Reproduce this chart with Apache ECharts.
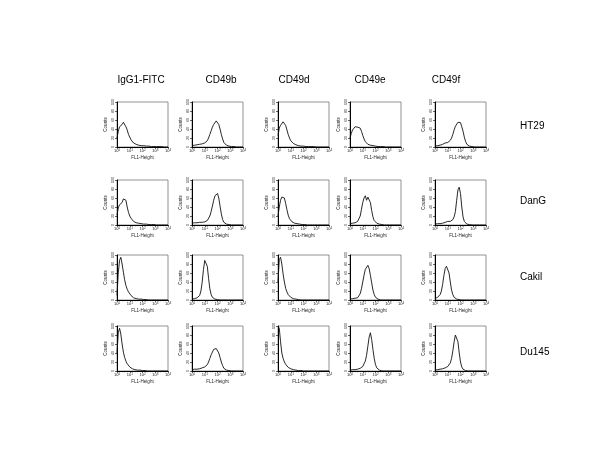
<!DOCTYPE html>
<html><head><meta charset="utf-8">
<script src="https://cdn.jsdelivr.net/npm/echarts@6/dist/echarts.min.js"></script>
<style>html,body{margin:0;padding:0;background:#fff}#c{width:600px;height:450px}</style>
</head><body><div id="c"></div>
<script>
const columns = ['IgG1-FITC','CD49b','CD49d','CD49e','CD49f'];
const rows = ['HT29','DanG','Cakil','Du145'];
const xTicks = [0,1,2,3,4];
const yTicks = [0,20,40,60,80,100];
const decades = [0,0.1,0.2,0.3,0.4,0.5,0.6,0.7,0.8,0.9,1.0,1.1,1.2,1.3,1.4,1.5,1.6,1.7,1.8,1.9,2.0,2.1,2.2,2.3,2.4,2.5,2.6,2.7,2.8,2.9,3.0,3.1,3.2,3.3,3.4,3.5,3.6,3.7,3.8,3.9,4.0];

const HT29_IgG   = [20,35,45,48,50,55,52,45,38,28, 22,16,12,9,7,6,5,4,4,3, 3,3,2,2,2,2,2,1,1,1, 1,1,1,1,1,1,0,0,0,0, 0];
const HT29_CD49b = [3,4,4,5,5,5,6,6,7,8, 9,10,14,20,28,36,44,50,52,58, 55,50,40,28,18,10,6,4,3,2, 2,1,1,1,1,0,0,0,0,0, 0];
const HT29_CD49d = [25,42,48,52,56,54,48,38,28,20, 14,10,8,6,5,4,3,3,2,2, 2,2,1,1,1,1,1,1,1,0, 0,0,0,0,0,0,0,0,0,0, 0];
const HT29_CD49e = [20,30,38,42,45,46,44,46,42,35, 26,18,12,8,6,5,4,3,3,2, 2,2,1,1,1,1,1,1,0,0, 0,0,0,0,0,0,0,0,0,0, 0];
const HT29_CD49f = [2,2,3,3,4,5,6,8,9,10, 10,12,15,20,28,38,46,50,55,52, 54,45,35,22,12,6,3,2,1,1, 1,0,0,0,0,0,0,0,0,0, 0];

const DanG_IgG   = [22,38,45,46,50,58,62,55,40,28, 20,15,11,8,6,5,4,4,3,3, 3,2,2,2,2,1,1,1,1,1, 1,0,0,0,0,0,0,0,0,0, 0];
const DanG_CD49b = [4,5,5,5,5,5,6,6,6,6, 7,8,10,14,20,30,42,55,65,68, 70,60,42,25,12,6,3,2,1,1, 0,0,0,0,0,0,0,0,0,0, 0];
const DanG_CD49d = [20,40,55,62,66,60,48,34,22,14, 10,7,5,4,3,3,2,2,2,1, 1,1,1,0,0,0,0,0,0,0, 0,0,0,0,0,0,0,0,0,0, 0];
const DanG_CD49e = [3,4,4,5,5,6,8,12,20,35, 50,60,65,55,62,66,50,32,18,10, 6,4,3,2,1,1,0,0,0,0, 0,0,0,0,0,0,0,0,0,0, 0];
const DanG_CD49f = [2,2,3,3,3,3,4,5,6,7, 8,8,8,9,12,18,30,55,78,84, 70,40,18,8,4,2,1,1,0,0, 0,0,0,0,0,0,0,0,0,0, 0];

const Cakil_IgG   = [10,60,88,95,80,62,45,32,24,18, 14,10,7,5,4,3,3,2,2,2, 1,1,1,1,1,0,0,0,0,0, 0,0,0,0,0,0,0,0,0,0, 0];
const Cakil_CD49b = [2,3,3,4,5,6,10,20,40,68, 88,92,75,48,25,12,6,3,2,1, 1,0,0,0,0,0,0,0,0,0, 0,0,0,0,0,0,0,0,0,0, 0];
const Cakil_CD49d = [40,90,95,80,58,40,26,18,12,8, 6,4,3,2,2,1,1,1,0,0, 0,0,0,0,0,0,0,0,0,0, 0,0,0,0,0,0,0,0,0,0, 0];
const Cakil_CD49e = [2,2,3,3,4,4,5,8,14,25, 40,55,68,72,77,70,55,38,22,12, 6,3,2,1,0,0,0,0,0,0, 0,0,0,0,0,0,0,0,0,0, 0];
const Cakil_CD49f = [3,4,6,8,12,20,35,55,70,75, 73,60,40,22,12,6,3,2,1,1, 0,0,0,0,0,0,0,0,0,0, 0,0,0,0,0,0,0,0,0,0, 0];

const Du145_IgG   = [40,85,95,82,60,42,30,22,16,12, 9,7,5,4,3,3,2,2,2,1, 1,1,1,0,0,0,0,0,0,0, 0,0,0,0,0,0,0,0,0,0, 0];
const Du145_CD49b = [3,3,4,4,4,5,5,6,7,8, 9,10,14,20,28,36,42,48,45,50, 47,40,30,20,12,6,3,2,1,1, 0,0,0,0,0,0,0,0,0,0, 0];
const Du145_CD49d = [100,95,65,40,28,20,15,11,8,6, 5,4,3,3,2,2,1,1,1,1, 0,0,0,0,0,0,0,0,0,0, 0,0,0,0,0,0,0,0,0,0, 0];
const Du145_CD49e = [2,2,3,3,3,4,4,5,6,8, 10,14,22,35,55,75,85,70,48,28, 14,7,3,2,1,0,0,0,0,0, 0,0,0,0,0,0,0,0,0,0, 0];
const Du145_CD49f = [2,2,3,3,4,4,5,6,7,8, 10,12,18,28,45,65,80,83,65,40, 20,9,4,2,1,0,0,0,0,0, 0,0,0,0,0,0,0,0,0,0, 0];

const panels = [
  [HT29_IgG, HT29_CD49b, HT29_CD49d, HT29_CD49e, HT29_CD49f],
  [DanG_IgG, DanG_CD49b, DanG_CD49d, DanG_CD49e, DanG_CD49f],
  [Cakil_IgG, Cakil_CD49b, Cakil_CD49d, Cakil_CD49e, Cakil_CD49f],
  [Du145_IgG, Du145_CD49b, Du145_CD49d, Du145_CD49e, Du145_CD49f]
];

// layout (pixels)
const colLeft = [117, 192, 278, 350, 435];
const rowTop = [102, 180, 255, 326];
const boxW = 51, boxH = 45;
const headerX = [141, 221, 294, 370, 446];
const rowLabelY = [126, 201, 277, 352];

const FONT = 'Liberation Sans, Arial, sans-serif';
const grids = [], xAxes = [], yAxes = [], series = [], titles = [];
let k = 0;
for (let r = 0; r < rows.length; r++) {
  for (let c = 0; c < columns.length; c++) {
    grids.push({left: colLeft[c], top: rowTop[r], width: boxW, height: boxH,
      show: true, borderColor: '#666', borderWidth: 0.7, backgroundColor: 'transparent'});
    xAxes.push({type: 'value', gridIndex: k, min: 0, max: 4, interval: 1,
      name: 'FL1-Height', nameLocation: 'middle', nameGap: 8,
      nameTextStyle: {fontSize: 4.5, color: '#222', fontFamily: FONT},
      axisLine: {show: true, lineStyle: {color: '#000', width: 1}},
      axisTick: {show: true, length: 2, lineStyle: {color: '#000', width: 0.6}},
      minorTick: {show: true, splitNumber: 5, length: 1.2, lineStyle: {color: '#000', width: 0.5}},
      splitLine: {show: false},
      axisLabel: {fontSize: 4, color: '#222', margin: 2, fontFamily: FONT,
        formatter: v => xTicks.indexOf(v) >= 0 ? '{b|10}{s|' + v + '}' : '',
        rich: {b: {fontSize: 4, fontFamily: FONT}, s: {fontSize: 3, verticalAlign: 'top', fontFamily: FONT}}}
    });
    yAxes.push({type: 'value', gridIndex: k, min: 0, max: 100, interval: 20,
      name: 'Counts', nameLocation: 'middle', nameGap: 9, nameRotate: 90,
      nameTextStyle: {fontSize: 4.5, color: '#222', fontFamily: FONT},
      axisLine: {show: true, lineStyle: {color: '#000', width: 1}},
      axisTick: {show: true, length: 2, lineStyle: {color: '#000', width: 0.6}},
      splitLine: {show: false},
      axisLabel: {fontSize: 3.5, color: '#222', margin: 2, rotate: 90, fontFamily: FONT}
    });
    series.push({type: 'line', xAxisIndex: k, yAxisIndex: k, showSymbol: false, symbol: 'none',
      smooth: false, lineStyle: {color: '#111', width: 0.9}, animation: false,
      data: decades.map((d, i) => [d, panels[r][c][i]])});
    k++;
  }
}
columns.forEach((t, c) => titles.push({text: t, left: headerX[c], top: 75, padding: 0,
  textAlign: 'center', textStyle: {fontSize: 10, fontWeight: 'normal', color: '#000', fontFamily: FONT}}));
rows.forEach((t, r) => titles.push({text: t, left: 520, top: rowLabelY[r] - 5, padding: 0,
  textStyle: {fontSize: 10, fontWeight: 'normal', color: '#000', fontFamily: FONT}}));

const chart = echarts.init(document.getElementById('c'), null, {renderer: 'canvas'});
chart.setOption({animation: false, backgroundColor: '#fff', title: titles,
  grid: grids, xAxis: xAxes, yAxis: yAxes, series: series});
</script></body></html>
